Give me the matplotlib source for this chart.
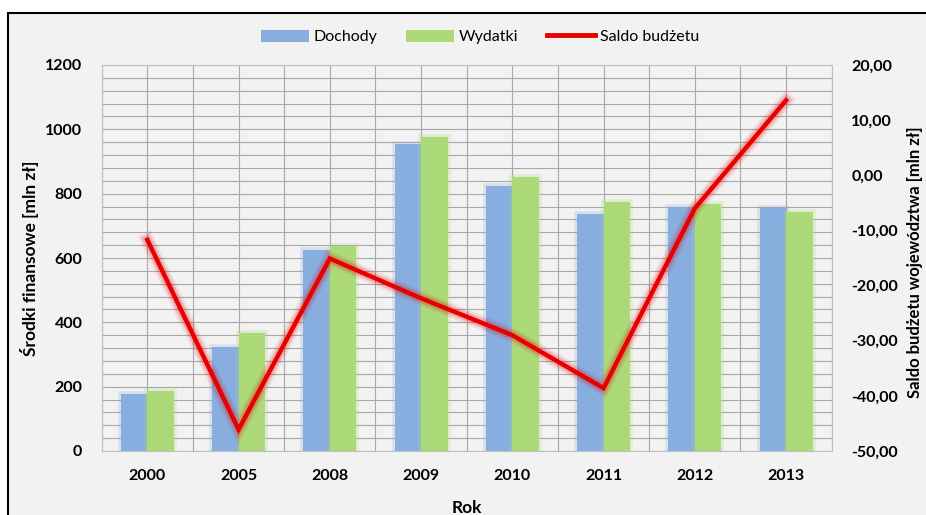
import matplotlib
matplotlib.use("Agg")
import matplotlib.pyplot as plt
import matplotlib.patheffects as pe
from matplotlib.patches import Rectangle, Patch
from matplotlib.lines import Line2D
from matplotlib.ticker import FuncFormatter, MultipleLocator
import numpy as np

plt.rcParams['font.family'] = ['Lato', 'DejaVu Sans']

# dane
lata = ['2000', '2005', '2008', '2009', '2010', '2011', '2012', '2013']
dochody = [177, 323, 625, 953, 823, 737, 760, 755]
wydatki = [187, 367, 638, 975, 852, 773, 767, 743]
saldo = [-11.7, -46.1, -15.1, -22.3, -29.0, -38.6, -6.0, 13.6]

kol_doch = '#87AEDE'
kol_wyd = '#ACDA78'
kol_saldo = '#E80000'
tlo = '#F2F2F2'

fig = plt.figure(figsize=(9.26, 5.15), dpi=100, facecolor='white')
# ramka wykresu
fig.patches.append(Rectangle((8/926, -0.2), 1.5, 1.2 - 13/515,
                             transform=fig.transFigure, facecolor=tlo,
                             edgecolor='black', linewidth=1.5, zorder=-10))

ax = fig.add_axes([101.7/926, 1 - 451/515, 730/926, 386/515])
ax.set_facecolor(tlo)
x = np.arange(len(lata))
w = 0.29

glow_d = [pe.Stroke(linewidth=4, foreground=kol_doch, alpha=0.25), pe.Normal()]
glow_w = [pe.Stroke(linewidth=4, foreground=kol_wyd, alpha=0.25), pe.Normal()]
bd = ax.bar(x - w/2, dochody, w, color=kol_doch, zorder=3)
bw = ax.bar(x + w/2, wydatki, w, color=kol_wyd, zorder=3)
for b in bd:
    b.set_path_effects(glow_d)
for b in bw:
    b.set_path_effects(glow_w)

ax.set_xlim(-0.5, len(lata) - 0.5)
ax.set_ylim(0, 1200)
ax.set_xticks(x)
ax.set_xticklabels(lata, fontsize=11.5, fontweight='bold')
ax.set_yticks(np.arange(0, 1201, 200))
ax.yaxis.set_minor_locator(MultipleLocator(40))
ax.xaxis.set_minor_locator(MultipleLocator(0.5))
ax.tick_params(axis='both', which='both', length=0)
ax.tick_params(axis='y', pad=14, labelsize=11.5)
ax.tick_params(axis='x', pad=13)
for t in ax.get_yticklabels():
    t.set_fontweight('bold')
ax.grid(True, which='both', color='#A8A8A8', linewidth=0.8, zorder=0)
ax.set_axisbelow(True)
for s in ax.spines.values():
    s.set_color('#BFBFBF')
    s.set_linewidth(0.8)
ax.set_xlabel('Rok', fontsize=12.5, fontweight='bold', labelpad=12)
ax.set_ylabel('Środki finansowe [mln zł]', fontsize=12.5, fontweight='bold')
ax.yaxis.set_label_coords(-0.086, 0.5)

ax2 = ax.twinx()
ax2.set_ylim(-50, 20)
ax2.set_yticks(np.arange(-50, 21, 10))
ax2.yaxis.set_major_formatter(FuncFormatter(lambda v, p: f'{v:.2f}'.replace('.', ',')))
ax2.tick_params(axis='y', length=0, pad=14, labelsize=11.5)
for t in ax2.get_yticklabels():
    t.set_fontweight('bold')
for s in ax2.spines.values():
    s.set_visible(False)
ax2.plot(x, saldo, color=kol_saldo, linewidth=3.2, solid_joinstyle='miter', zorder=5,
         path_effects=[pe.Stroke(linewidth=10, foreground=kol_saldo, alpha=0.1),
                       pe.Stroke(linewidth=6.5, foreground=kol_saldo, alpha=0.2),
                       pe.Normal()])

fig.text(907/926, 1 - 262/515, 'Saldo budżetu województwa [mln zł]', rotation=90,
         ha='left', va='center', fontsize=12, fontweight='bold')

uchwyty = [Patch(facecolor=kol_doch), Patch(facecolor=kol_wyd),
           Line2D([], [], color=kol_saldo, linewidth=3.5)]
fig.legend(uchwyty, ['Dochody', 'Wydatki', 'Saldo budżetu'], loc='center',
           bbox_to_anchor=(480/926, 1 - 37/515), ncol=3, frameon=False,
           fontsize=11.5, handlelength=3, handleheight=0.8, columnspacing=1.8,
           handletextpad=0.3)

fig.savefig('out.png', dpi=100, facecolor=fig.get_facecolor())
